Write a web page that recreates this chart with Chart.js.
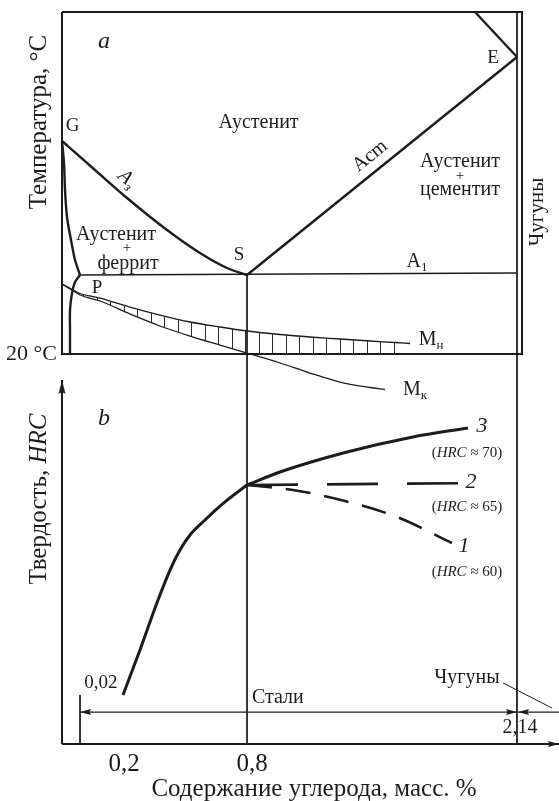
<!DOCTYPE html>
<html><head><meta charset="utf-8">
<script src="https://cdn.jsdelivr.net/npm/chart.js@4.4.1/dist/chart.umd.min.js"></script>
<style>html,body{margin:0;padding:0;background:#fff;overflow:hidden}canvas{display:block}</style>
</head><body>
<canvas id="c" width="559" height="801"></canvas>
<script>
// ---------------- DATA (schematic units) ----------------
// x  : composition position, 0 = pure Fe (left frame), 100 = 2.14 % C
// yT : panel a temperature position, 0 = 20 °C line, 100 = top of frame
// yH : panel b hardness, HRC
const gsX  = [0, 7.25, 14.29, 23.08, 30.33, 36.26, 40.66];          // A3 (G–S)
const gsY  = [62.28, 53.80, 45.61, 36.26, 29.53, 25.15, 23.10];
const esX  = [40.66, 100];                                          // Acm (S–E)
const esY  = [23.10, 86.84];
const geX  = [90.77, 100];                                          // line to E
const geY  = [100, 86.84];
const gpX  = [0, 0.44, 0.66, 1.10, 1.98, 2.86, 3.96];                // G–P
const gpY  = [62.28, 55.85, 47.95, 40.06, 33.33, 27.49, 23.10];
const pqX  = [3.96, 2.86, 2.20, 1.76, 1.76, 1.76];                   // P–Q
const pqY  = [23.10, 21.05, 17.84, 12.87, 7.02, 0];
const a1X  = [3.96, 100];                                           // A1
const a1Y  = [23.10, 23.68];
const mnX  = [0, 2.86, 3.96, 8.35, 14.95, 21.54, 28.13, 34.73, 40.66, 47.91, 54.51, 61.10, 67.69, 73.19, 76.48];
const mnY  = [20.47, 18.42, 17.69, 16.37, 13.74, 11.40, 9.36, 7.89, 6.73, 5.70, 4.97, 4.39, 3.80, 3.36, 3.07];
const mkX  = [0, 2.86, 3.96, 8.35, 14.95, 21.54, 28.13, 34.73, 40.66, 47.91, 54.51, 61.10, 67.69, 70.99];
const mkY  = [20.47, 18.13, 17.25, 15.50, 11.70, 8.19, 5.26, 2.63, 0.29, -2.63, -5.56, -8.19, -9.80, -10.38];
const hatchX   = [3.96, 8.35, 14.95, 21.54, 28.13, 34.73, 40.66, 47.91, 54.51, 61.10, 67.69, 73.19];
const hatchTop = [17.69, 16.37, 13.74, 11.40, 9.36, 7.89, 6.73, 5.70, 4.97, 4.39, 3.80, 3.36];
const hatchBot = [17.25, 15.50, 11.70, 8.19, 5.26, 2.63, 0.29, 0, 0, 0, 0, 0];

const hardX  = [13.41, 17.14, 21.10, 23.74, 25.93, 28.13, 31.43, 35.82, 40.66];   // quenched hardness
const hardY  = [46.78, 50.70, 55.04, 57.65, 59.39, 60.70, 62.00, 63.57, 65.04];
const c3X = [40.66, 47.91, 62.64, 77.14, 89.23];                     // curve 3 (HRC≈70)
const c3Y = [65.04, 66.17, 67.91, 69.22, 70.00];
const c2X = [40.66, 88.13];                                          // curve 2 (HRC≈65)
const c2Y = [65.04, 65.20];
const c1X = [40.66, 50.77, 62.20, 73.63, 85.71];                     // curve 1 (HRC≈60)
const c1Y = [65.04, 64.61, 63.65, 62.26, 60.00];

const carbonS = 40.66, carbonE = 100, carbon002 = 3.96;             // 0.8 %, 2.14 %, 0.02 %
const panelTopT = 100, tempBase = 0;
const hrcAxisMin = 42.52, hrcAxisTop = 74.17, panelBTop = 76.43, dimLevel = 45.30;
const tickLabels = ['0,2', '0,8'];
const tickPos    = [13.63, 41.76];
const seriesLabels = ['3', '2', '1'];
const seriesHRC    = ['70', '65', '60'];

// ---------------- helpers ----------------
const INK = '#1c1c1c';
const FONT = '"Liberation Serif", "Times New Roman", serif';
function pts(xs, ys){ return xs.map((x,i)=>({x:x, y:ys[i]})); }
function ds(xs, ys, axis, opt){
  return Object.assign({data: pts(xs, ys), yAxisID: axis, showLine: true, borderColor: INK,
    borderWidth: 1, pointRadius: 0, pointHoverRadius: 0, tension: 0, fill: false, clip: false}, opt||{});
}
function arrowImg(len, hw){
  const c = document.createElement('canvas');
  c.width = 2*len + 2; c.height = 2*Math.ceil(hw) + 2;
  const g = c.getContext('2d'), cy = c.height/2, tip = c.width/2;
  g.fillStyle = INK; g.beginPath();
  g.moveTo(tip, cy); g.lineTo(tip-len, cy-hw); g.lineTo(tip-len*0.85, cy); g.lineTo(tip-len, cy+hw);
  g.closePath(); g.fill();
  return c;
}
const arrBig = arrowImg(14, 3.5), arrSmall = arrowImg(11, 3);

const cv = document.getElementById('c');
const pc = document.createElement('canvas'); pc.width = 27; pc.height = 4;
const pg = pc.getContext('2d'); pg.fillStyle = '#2a2a2a'; pg.fillRect(2,0,1,4); pg.fillRect(16,0,1,4);
const hatch = cv.getContext('2d').createPattern(pc, 'repeat');

const datasets = [
  ds([0, 101.1, 101.1, 0, 0], [panelTopT, panelTopT, tempBase, tempBase, panelTopT], 'yT', {borderWidth: 2}),
  ds(gsX, gsY, 'yT', {borderWidth: 2.4, cubicInterpolationMode: 'monotone'}),
  ds(esX, esY, 'yT', {borderWidth: 2.4}),
  ds(geX, geY, 'yT', {borderWidth: 2.4}),
  ds(gpX, gpY, 'yT', {borderWidth: 2.4, tension: 0.3}),
  ds(pqX, pqY, 'yT', {borderWidth: 2.4, tension: 0.3}),
  ds(a1X, a1Y, 'yT', {borderWidth: 1.6}),
  ds(hatchX, hatchTop, 'yT', {borderWidth: 0, cubicInterpolationMode: 'monotone', fill: '+1', backgroundColor: hatch}),
  ds(hatchX, hatchBot, 'yT', {borderWidth: 0, tension: 0}),
  ds(mnX, mnY, 'yT', {borderWidth: 1.3, cubicInterpolationMode: 'monotone'}),
  ds(mkX, mkY, 'yT', {borderWidth: 1.3, cubicInterpolationMode: 'monotone'}),
  ds([carbonS, carbonS], [23.10, tempBase], 'yT', {borderWidth: 1}),
  ds([carbonE, carbonE], [panelTopT, tempBase], 'yT', {borderWidth: 1}),
  // panel b
  ds([carbonS, carbonS], [panelBTop, hrcAxisMin], 'yH', {borderWidth: 1}),
  ds([carbonE, carbonE], [panelBTop, hrcAxisMin], 'yH', {borderWidth: 1}),
  ds([0, 0], [hrcAxisMin, hrcAxisTop], 'yH', {borderWidth: 2, pointRadius: [0, 1], pointStyle: ['circle', arrBig], pointRotation: [0, -90]}),
  ds([0, 109.23], [hrcAxisMin, hrcAxisMin], 'yH', {borderWidth: 2, pointRadius: [0, 1], pointStyle: ['circle', arrSmall], pointRotation: [0, 0]}),
  ds([carbon002, carbon002], [46.78, hrcAxisMin], 'yH', {borderWidth: 1}),
  ds([carbon002, carbonE], [dimLevel, dimLevel], 'yH', {borderWidth: 1.2, pointRadius: [1, 1], pointStyle: [arrSmall, arrSmall], pointRotation: [180, 0]}),
  ds([109.23, 100.25], [dimLevel, dimLevel], 'yH', {borderWidth: 1.2, pointRadius: [0, 1], pointStyle: ['circle', arrSmall], pointRotation: [0, 180]}),
  ds([96.92, 107.69], [47.83, 45.65], 'yH', {borderWidth: 1}),
  ds(hardX, hardY, 'yH', {borderWidth: 3, cubicInterpolationMode: 'monotone'}),
  ds(c3X, c3Y, 'yH', {borderWidth: 3, cubicInterpolationMode: 'monotone'}),
  ds(c2X, c2Y, 'yH', {borderWidth: 2.6, borderDash: [51, 29]}),
  ds(c1X, c1Y, 'yH', {borderWidth: 2.6, cubicInterpolationMode: 'monotone', borderDash: [25, 14]})
];

// ---------------- text ----------------
const T = (t, o) => Object.assign({t: t}, o||{});
const LABELS = [
  {axis:'yT', x:9.23, y:91.23, size:24, runs:[T('a',{it:1})]},
  {axis:'yT', x:43.2, y:67.54, size:20, runs:[T('Аустенит')]},
  {axis:'yT', x:2.31, y:66.67, size:19, runs:[T('G')]},
  {axis:'yT', x:94.73, y:86.55, size:19, runs:[T('E')]},
  {axis:'yT', x:14.29, y:51.17, size:20, rot:41, runs:[T('A',{it:1}), T('з',{sub:1,it:1})]},
  {axis:'yT', x:67.69, y:57.89, size:20, rot:-38.9, runs:[T('Acm')]},
  {axis:'yT', x:87.47, y:56.1, size:20, runs:[T('Аустенит')]},
  {axis:'yT', x:87.47, y:51.9, size:15, runs:[T('+')]},
  {axis:'yT', x:87.47, y:47.95, size:20, runs:[T('цементит')]},
  {axis:'yT', x:11.87, y:35.0, size:20, runs:[T('Аустенит')]},
  {axis:'yT', x:14.29, y:30.9, size:15, runs:[T('+')]},
  {axis:'yT', x:14.51, y:26.32, size:20, runs:[T('феррит')]},
  {axis:'yT', x:38.90, y:28.95, size:19, runs:[T('S')]},
  {axis:'yT', x:7.69, y:19.30, size:19, runs:[T('P')]},
  {axis:'yT', x:78.02, y:26.90, size:20, runs:[T('A'), T('1',{sub:1})]},
  {axis:'yT', x:81.10, y:4.09, size:20, runs:[T('M'), T('н',{sub:1})]},
  {axis:'yT', x:77.58, y:-10.38, size:20, runs:[T('M'), T('к',{sub:1})]},
  {axis:'yT', x:104.40, y:41.52, size:21, rot:-90, runs:[T('Чугуны')]},
  {axis:'yT', x:-1.10, y:0, size:22, align:'right', runs:[T('20 °C')]},
  {axis:'yT', x:-5.05, y:67.84, size:25, rot:-90, runs:[T('Температура, °С')]},
  {axis:'yH', x:9.23, y:70.78, size:24, runs:[T('b',{it:1})]},
  {axis:'yH', x:-5.05, y:63.83, size:25, rot:-90, runs:[T('Твердость, '), T('HRC',{it:1})]},
  {axis:'yH', x:92.31, y:70.17, size:22, runs:[T(seriesLabels[0],{it:1})]},
  {axis:'yH', x:89.01, y:67.83, size:15, runs:[T('('), T('HRC',{it:1}), T(' ≈ '+seriesHRC[0]+')')]},
  {axis:'yH', x:89.89, y:65.30, size:22, runs:[T(seriesLabels[1],{it:1})]},
  {axis:'yH', x:89.01, y:63.13, size:15, runs:[T('('), T('HRC',{it:1}), T(' ≈ '+seriesHRC[1]+')')]},
  {axis:'yH', x:88.35, y:59.74, size:22, runs:[T(seriesLabels[2],{it:1})]},
  {axis:'yH', x:89.01, y:57.48, size:15, runs:[T('('), T('HRC',{it:1}), T(' ≈ '+seriesHRC[2]+')')]},
  {axis:'yH', x:8.57, y:47.83, size:19, runs:[T('0,02')]},
  {axis:'yH', x:41.76, y:46.52, size:20, align:'left', runs:[T('Стали')]},
  {axis:'yH', x:89.01, y:48.26, size:20, runs:[T('Чугуны')]},
  {axis:'yH', x:100.66, y:43.91, size:20, runs:[T('2,14')]},
  {axis:'yH', x:55.38, y:38.61, size:25, runs:[T('Содержание углерода, масс. %')]}
];
tickLabels.forEach((t,i)=>LABELS.push({axis:'yH', x:tickPos[i], y:40.78, size:25, runs:[T(t)]}));

function fnt(r, s){ return (r.it ? 'italic ' : '') + s + 'px ' + FONT; }
function drawRuns(ctx, runs, size, align){
  let w = 0;
  const ms = runs.map(r => { const s = r.sub ? Math.round(size*0.65) : size; ctx.font = fnt(r, s);
    const m = ctx.measureText(r.t).width; w += m; return {r:r, s:s, m:m}; });
  let x0 = align === 'left' ? 0 : align === 'right' ? -w : -w/2;
  ms.forEach(o => { ctx.font = fnt(o.r, o.s); ctx.fillText(o.r.t, x0, o.r.sub ? size*0.3 : 0); x0 += o.m; });
}
const textPlugin = {
  id: 'txt',
  afterDatasetsDraw(chart){
    const ctx = chart.ctx, sx = chart.scales.x;
    LABELS.forEach(L => {
      const px = sx.getPixelForValue(L.x), py = chart.scales[L.axis].getPixelForValue(L.y);
      ctx.save(); ctx.translate(px, py); if (L.rot) ctx.rotate(L.rot*Math.PI/180);
      ctx.fillStyle = INK; ctx.textBaseline = 'middle'; ctx.textAlign = 'left';
      drawRuns(ctx, L.runs, L.size, L.align || 'center');
      ctx.restore();
    });
  }
};
const bgPlugin = { id:'bg', beforeDraw(c){ const g=c.ctx; g.save(); g.fillStyle='#fff'; g.fillRect(0,0,c.width,c.height); g.restore(); } };

new Chart(cv, {
  type: 'scatter',
  data: { datasets: datasets },
  options: {
    responsive: false, animation: false, devicePixelRatio: 1, events: [],
    layout: { padding: 0, autoPadding: false },
    plugins: { legend: {display: false}, tooltip: {enabled: false} },
    scales: {
      x:  { type: 'linear', min: -13.626, max: 109.231, display: false },
      yT: { type: 'linear', min: -130.702, max: 103.509, display: false },
      yH: { type: 'linear', min: 37.565, max: 107.217, display: false }
    }
  },
  plugins: [bgPlugin, textPlugin]
});
</script>
</body></html>
